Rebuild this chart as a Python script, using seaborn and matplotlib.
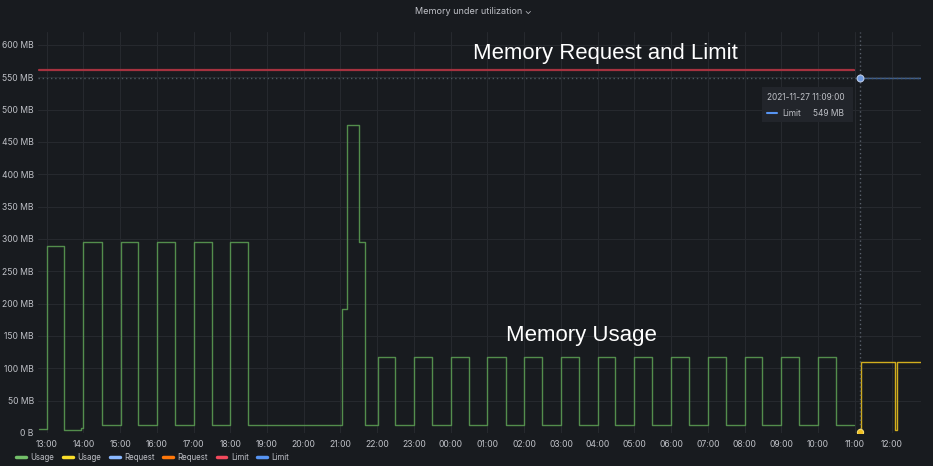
"""
Grafana-style memory panel: usage vs request/limit over 24h.
"""

###########
# IMPORTS #
###########
import seaborn as sns
import matplotlib.pyplot as plt
import matplotlib.dates as mdates
from matplotlib.lines import Line2D
from matplotlib.patches import Rectangle
from matplotlib.ticker import FuncFormatter
import pandas as pd

########
# DATA #
########
# old pod usage (MB), step series
usage_old_times = [
    "2021-11-26 12:47", "2021-11-26 13:00", "2021-11-26 13:29", "2021-11-26 13:57",
    "2021-11-26 14:00", "2021-11-26 14:30", "2021-11-26 15:01", "2021-11-26 15:29",
    "2021-11-26 16:00", "2021-11-26 16:29", "2021-11-26 17:00", "2021-11-26 17:30",
    "2021-11-26 17:59", "2021-11-26 18:29", "2021-11-26 21:02", "2021-11-26 21:10",
    "2021-11-26 21:30", "2021-11-26 21:40", "2021-11-26 22:01", "2021-11-26 22:29",
    "2021-11-26 23:00", "2021-11-26 23:29", "2021-11-27 00:00", "2021-11-27 00:30",
    "2021-11-27 01:00", "2021-11-27 01:30", "2021-11-27 02:00", "2021-11-27 02:29",
    "2021-11-27 03:00", "2021-11-27 03:29", "2021-11-27 04:00", "2021-11-27 04:29",
    "2021-11-27 05:00", "2021-11-27 05:29", "2021-11-27 06:00", "2021-11-27 06:29",
    "2021-11-27 07:00", "2021-11-27 07:29", "2021-11-27 08:00", "2021-11-27 08:29",
    "2021-11-27 09:00", "2021-11-27 09:29", "2021-11-27 10:00", "2021-11-27 10:29",
    "2021-11-27 10:58",
]
usage_old_mb = [
    6, 289, 5, 8,
    295, 12, 295, 12,
    295, 12, 295, 12,
    295, 12, 192, 476,
    295, 12, 117, 12,
    117, 12, 117, 12,
    117, 12, 117, 12,
    117, 12, 117, 12,
    117, 12, 117, 12,
    117, 12, 117, 12,
    117, 12, 117, 12,
    12,
]

# new pod usage (MB)
usage_new_times = ["2021-11-27 11:09", "2021-11-27 11:10", "2021-11-27 12:05",
                   "2021-11-27 12:09", "2021-11-27 12:48"]
usage_new_mb = [2, 110, 5, 110, 110]

# request / limit (MB)
limit_old_times = ["2021-11-26 12:47", "2021-11-27 10:58"]
limit_old_mb = [561, 561]
limit_new_times = ["2021-11-27 11:09", "2021-11-27 12:48"]
limit_new_mb = [549, 549]

cursor_time = "2021-11-27 11:09"
x_range = ["2021-11-26 12:46", "2021-11-27 12:48"]

legend_labels = ["Usage", "Usage", "Request", "Request", "Limit", "Limit"]
legend_colors = ["#73bf69", "#fade2a", "#8ab8ff", "#ff780a", "#f2495c", "#5794f2"]

BG = "#181b1f"
TEXT = "#bfc1c7"
GRID = "#26292e"

####################
# HELPER FUNCTIONS #
####################

def _frame(times, values):
    return pd.DataFrame({"time": pd.to_datetime(times), "mb": values})


def _mb_formatter(x, pos):
    return "0 B" if x == 0 else f"{x:.0f} MB"


def _step(ax, times, values, color, lw=1.0, alpha=1.0):
    sns.lineplot(data=_frame(times, values), x="time", y="mb", color=color,
                 drawstyle="steps-post", linewidth=lw, alpha=alpha,
                 estimator=None, sort=False, ax=ax)


#########
# PLOTS #
#########

sns.set_style("dark")
plt.rcParams["font.family"] = ["Inter", "DejaVu Sans"]

fig = plt.figure(figsize=(9.33, 4.66), dpi=100, facecolor=BG)
ax = fig.add_axes([38 / 933, 1 - 433 / 466, 883 / 933, 401 / 466])
ax.set_facecolor(BG)

# requests sit underneath the limits (same values)
_step(ax, limit_old_times, limit_old_mb, "#8ab8ff", lw=0.6)
_step(ax, limit_new_times, limit_new_mb, "#ff780a", lw=0.6)
_step(ax, limit_old_times, limit_old_mb, "#a5323f", lw=1.6)
_step(ax, limit_new_times, limit_new_mb, "#3d5f92", lw=1.0)
_step(ax, usage_old_times, usage_old_mb, "#5a9a52", lw=1.0, alpha=0.9)
_step(ax, usage_new_times, usage_new_mb, "#d2ae1e", lw=1.0)

# cursor crosshair
ct = pd.to_datetime(cursor_time)
ax.axvline(ct, color="#59606b", linewidth=1.0, linestyle=(0, (1, 2)), zorder=3)
ax.axhline(limit_new_mb[0], color="#4c5a60", linewidth=1.0, linestyle=(0, (1, 2)), zorder=3)
ax.scatter([ct], [limit_new_mb[0]], s=24, color="#6f9be0", edgecolor="#b9c9e6",
           linewidth=0.8, zorder=5)
ax.scatter([ct], [usage_new_mb[0]], s=20, color="#f0c020", edgecolor="#f5dc70",
           linewidth=0.8, zorder=5)

# axes
ax.set_xlim(pd.to_datetime(x_range[0]), pd.to_datetime(x_range[1]))
ax.set_ylim(0, 620)
ax.set_yticks(range(0, 601, 50))
ax.yaxis.set_major_formatter(FuncFormatter(_mb_formatter))
ax.xaxis.set_major_locator(mdates.HourLocator())
ax.xaxis.set_major_formatter(mdates.DateFormatter("%H:%M"))
ax.set_xlabel("")
ax.set_ylabel("")
ax.tick_params(axis="both", length=0, labelsize=6.2, colors=TEXT)
ax.tick_params(axis="y", pad=3)
ax.tick_params(axis="x", pad=5)
ax.grid(True, color=GRID, linewidth=0.8)
for s in ax.spines.values():
    s.set_visible(False)

# panel title
fig.text(473 / 933, 1 - 11 / 466, "Memory under utilization \u2304", ha="center",
         va="center", fontsize=6.5, color=TEXT)

# annotations
ax.text(605 / 933, 1 - 54 / 466, "Memory Request and Limit", transform=fig.transFigure,
        ha="center", va="center", fontsize=15.9, color="white",
        family=["Liberation Sans", "DejaVu Sans"])
ax.text(581 / 933, 1 - 336 / 466, "Memory Usage", transform=fig.transFigure,
        ha="center", va="center", fontsize=16, color="white",
        family=["Liberation Sans", "DejaVu Sans"])

# tooltip
fig.patches.append(Rectangle((762 / 933, 1 - 122 / 466), 91 / 933, 35 / 466,
                             transform=fig.transFigure, facecolor="#22252b",
                             edgecolor="none", zorder=10))
fig.text(767 / 933, 1 - 98 / 466, ct.strftime("%Y-%m-%d %H:%M:%S"), fontsize=6,
         color=TEXT, va="center", zorder=11)
fig.lines.append(Line2D([767 / 933, 777 / 933], [1 - 113 / 466] * 2,
                        transform=fig.transFigure, color="#5794f2", linewidth=1.5,
                        zorder=11))
fig.text(782 / 933, 1 - 113 / 466, "Limit", fontsize=6, color=TEXT, va="center", zorder=11)
fig.text(813 / 933, 1 - 113 / 466, f"{limit_new_mb[0]} MB", fontsize=6, color=TEXT,
         va="center", zorder=11)

# legend
handles = [Line2D([], [], color=c, linewidth=2.5) for c in legend_colors]
fig.legend(handles, legend_labels, loc="center left", bbox_to_anchor=(16 / 933, 1 - 457 / 466),
           ncol=6, frameon=False, fontsize=5.7, labelcolor=TEXT, handlelength=1.25,
           handletextpad=0.55, columnspacing=1.1, borderaxespad=0, borderpad=0)

plt.savefig("out.png", dpi=100, facecolor=BG)
